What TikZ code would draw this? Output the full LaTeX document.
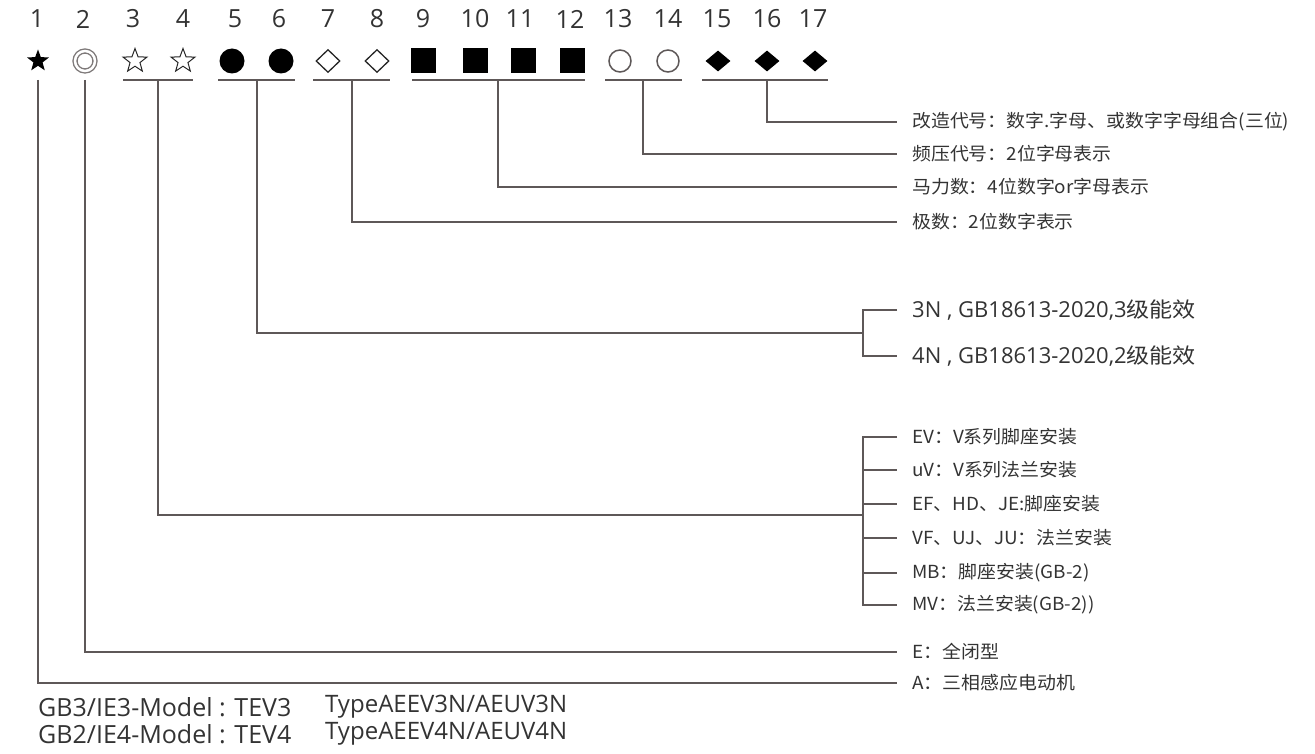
\documentclass[tikz,border=0pt]{standalone}
\usepackage{fontspec}
\setmainfont{Open Sans}
\newfontfamily\cjk[FakeStretch=1.05]{Noto Sans CJK SC}
\newfontfamily\cjkwide[FakeStretch=1.1]{Noto Sans CJK SC}
\usetikzlibrary{shapes.geometric}
\definecolor{ink}{HTML}{333333}
\definecolor{wirecol}{HTML}{5E5858}

\begin{document}
\begin{tikzpicture}[x=1pt, y=-1pt, font=\fontsize{25}{28}\selectfont,
  num/.style={text=ink, inner sep=0pt},
  fillsym/.style={fill=black, inner sep=0pt},
  opensym/.style={draw=black!85, line width=1.3pt, inner sep=0pt},
  lab/.style={anchor=west, inner xsep=15pt, inner ysep=0pt, text=ink,
              font=\cjk\fontsize{18}{20}\selectfont},
  biglab/.style={lab, font=\fontsize{22}{24}\selectfont},
  model/.style={anchor=west, inner sep=0pt, text=ink},
  wire/.style={draw=wirecol, line width=1.8pt}]

\useasboundingbox (0,0) rectangle (1315,754);

% position numbers
\foreach \n/\x in {1/37,2/83,3/133,4/183,5/235,6/279,7/328,8/377,9/423,
                   10/475,11/520,12/570,13/618,14/668,15/717,16/767,17/813}
  \node[num] (n\n) at (\x,19) {\n};

% symbols
\node[fillsym, star, star points=5, star point ratio=2.4, minimum size=23pt] (s1) at (38,61) {};
\node[circle, draw=wirecol!80, line width=1.4pt, double, double distance=2.5pt,
      minimum size=20pt, inner sep=0pt] (s2) at (85,61) {};
\node[opensym, star, star points=5, star point ratio=2.4, minimum size=25pt, line width=1pt] (s3) at (135,61) {};
\node[opensym, star, star points=5, star point ratio=2.4, minimum size=25pt, line width=1pt] (s4) at (183,61) {};
\node[fillsym, circle, minimum size=25pt] (s5) at (232,61) {};
\node[fillsym, circle, minimum size=25pt] (s6) at (281,61) {};
\node[opensym, diamond, minimum width=24pt, minimum height=23pt] (s7) at (328,61) {};
\node[opensym, diamond, minimum width=24pt, minimum height=23pt] (s8) at (377,61) {};
\node[fillsym, rectangle, minimum size=25pt] (s9) at (423,61) {};
\node[fillsym, rectangle, minimum size=25pt] (s10) at (475,61) {};
\node[fillsym, rectangle, minimum size=25pt] (s11) at (523,61) {};
\node[fillsym, rectangle, minimum size=25pt] (s12) at (572,61) {};
\node[opensym, circle, minimum size=22pt, draw=wirecol, line width=1.5pt] (s13) at (620,61) {};
\node[opensym, circle, minimum size=22pt, draw=wirecol, line width=1.5pt] (s14) at (668,61) {};
\node[fillsym, diamond, minimum width=25pt, minimum height=21pt] (s15) at (718,61) {};
\node[fillsym, diamond, minimum width=25pt, minimum height=21pt] (s16) at (767,61) {};
\node[fillsym, diamond, minimum width=25pt, minimum height=21pt] (s17) at (815,61) {};

% group bars and stems
\coordinate (t1) at (38,80);
\coordinate (t2) at (85,80);
\coordinate (b3) at (123,80);  \coordinate (e3) at (193,80);  \coordinate (t3) at (158,80);
\coordinate (b5) at (218,80);  \coordinate (e5) at (295,80);  \coordinate (t5) at (257,80);
\coordinate (b7) at (313,80);  \coordinate (e7) at (390,80);  \coordinate (t7) at (352,80);
\coordinate (b9) at (412,80);  \coordinate (e9) at (585,80);  \coordinate (t9) at (498,80);
\coordinate (b13) at (605,80); \coordinate (e13) at (682,80); \coordinate (t13) at (643,80);
\coordinate (b15) at (702,80); \coordinate (e15) at (828,80); \coordinate (t15) at (767,80);
\foreach \g in {3,5,7,9,13,15}
  \draw[wire] (b\g) -- (e\g);

% labels
\node[lab] (l15) at (897,122) {改造代号：数字.字母、或数字字母组合(三位)};
\node[lab] (l13) at (897,154) {频压代号：2位字母表示};
\node[lab] (l9)  at (897,187) {马力数：4位数字or字母表示};
\node[lab] (l7)  at (897,222) {极数：2位数字表示};
\draw[wire] (t15) |- (l15.west);
\draw[wire] (t13) |- (l13.west);
\draw[wire] (t9)  |- (l9.west);
\draw[wire] (t7)  |- (l7.west);

% efficiency branch
\coordinate (k5) at (863,333);
\node[biglab] (l5a) at (897,310) {3N , GB18613-2020,3{\cjkwide\fontsize{21}{24}\selectfont 级能效}};
\node[biglab] (l5b) at (897,356) {4N , GB18613-2020,2{\cjkwide\fontsize{21}{24}\selectfont 级能效}};
\draw[wire] (t5) |- (k5);
\draw[wire] (l5a.west) -| (k5) |- (l5b.west);

% mounting branch
\coordinate (k3) at (863,515);
\node[lab] (l3a) at (897,437) {EV：V系列脚座安装};
\node[lab] (l3b) at (897,470) {uV：V系列法兰安装};
\node[lab] (l3c) at (897,504) {EF、HD、JE:脚座安装};
\node[lab] (l3d) at (897,538) {VF、UJ、JU：法兰安装};
\node[lab] (l3e) at (897,573) {MB：脚座安装(GB-2)};
\node[lab] (l3f) at (897,605) {MV：法兰安装(GB-2))};
\draw[wire] (t3) |- (k3);
\draw[wire] (l3a.west) -| (k3) |- (l3f.west);
\foreach \b in {b,c,d,e}
  \draw[wire] (k3 |- l3\b.west) -- (l3\b.west);

% enclosure and motor type
\node[lab] (lE) at (897,652) {E：全闭型};
\node[lab] (lA) at (897,683) {A：三相感应电动机};
\draw[wire] (t2) |- (lE.west);
\draw[wire] (t1) |- (lA.west);

% model lines
\node[model] (m3) at (38,707) {GB3/IE3-Model : TEV3};
\node[model, font=\fontsize{24}{28}\selectfont] (m3t) at (325,707) {TypeAEEV3N/AEUV3N};
\node[model] (m4) at (38,734) {GB2/IE4-Model : TEV4};
\node[model, font=\fontsize{24}{28}\selectfont] (m4t) at (325,734) {TypeAEEV4N/AEUV4N};
\end{tikzpicture}
\end{document}
